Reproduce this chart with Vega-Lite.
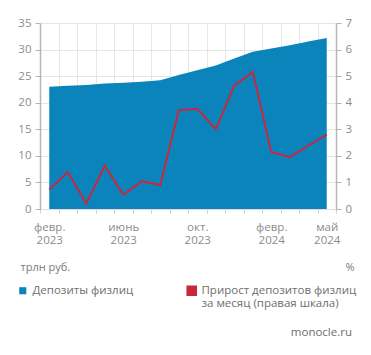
{
  "$schema": "https://vega.github.io/schema/vega-lite/v6.json",
  "width": 296,
  "height": 186,
  "autosize": {"type": "none"},
  "padding": {"left": 40, "top": 23, "right": 35, "bottom": 146},
  "background": "white",
  "config": {
    "view": {"stroke": null},
    "font": "Open Sans",
    "axis": {"labelFont": "Open Sans", "titleFont": "Open Sans", "labelColor": "#8c8c8c", "titleColor": "#7a7a7a", "labelFontSize": 11.5, "titleFontSize": 11, "titleFontWeight": "normal"},
    "legend": {"labelFont": "Open Sans", "labelFontSize": 11.5, "labelColor": "#6e6e6e"}
  },
  "title": {"text": "monocle.ru", "orient": "bottom", "anchor": "end", "frame": "group", "fontSize": 11.5, "fontWeight": "normal", "color": "#6e6e6e", "font": "Open Sans", "offset": 17, "dx": 16},
  "data": {"values": [
    {"m": "2023-02", "dep": 23.0, "g": 0.73},
    {"m": "2023-03", "dep": 23.2, "g": 1.39},
    {"m": "2023-04", "dep": 23.35, "g": 0.2},
    {"m": "2023-05", "dep": 23.6, "g": 1.63},
    {"m": "2023-06", "dep": 23.75, "g": 0.54},
    {"m": "2023-07", "dep": 23.95, "g": 1.04},
    {"m": "2023-08", "dep": 24.25, "g": 0.9},
    {"m": "2023-09", "dep": 25.2, "g": 3.72},
    {"m": "2023-10", "dep": 26.1, "g": 3.77},
    {"m": "2023-11", "dep": 27.0, "g": 3.0},
    {"m": "2023-12", "dep": 28.3, "g": 4.64},
    {"m": "2024-01", "dep": 29.6, "g": 5.16},
    {"m": "2024-02", "dep": 30.2, "g": 2.15},
    {"m": "2024-03", "dep": 30.8, "g": 1.95},
    {"m": "2024-04", "dep": 31.5, "g": 2.38},
    {"m": "2024-05", "dep": 32.2, "g": 2.8}
  ]},
  "encoding": {
    "x": {
      "field": "m", "type": "ordinal", "bandPosition": 0.5,
      "scale": {"type": "band", "paddingInner": 0, "paddingOuter": 0},
      "axis": {
        "title": null, "tickBand": "extent", "grid": true, "gridColor": "#e6e6e6", "gridWidth": 1,
        "domain": true, "domainColor": "#dddddd", "ticks": true, "tickColor": "#d0d0d0", "tickSize": 4,
        "labelAngle": 0, "labelOverlap": false, "labelPadding": 7, "labelBaseline": "line-top", "labelLineHeight": 13,
        "labelExpr": "datum.value=='2023-02'?['февр.','2023']:datum.value=='2023-06'?['июнь','2023']:datum.value=='2023-10'?['окт.','2023']:datum.value=='2024-02'?['февр.','2024']:datum.value=='2024-05'?['май','2024']:''"
      }
    }
  },
  "layer": [
    {
      "mark": {"type": "area", "opacity": 1},
      "encoding": {
        "y": {"field": "dep", "type": "quantitative", "scale": {"domain": [0, 35]},
          "axis": {"title": "трлн руб.", "orient": "left", "values": [0,5,10,15,20,25,30,35], "grid": true, "gridColor": "#e6e6e6",
            "domain": true, "domainColor": "#b5b5b5", "domainWidth": 1.5, "ticks": true, "tickColor": "#b5b5b5", "tickSize": 5, "labelPadding": 4,
            "titleAngle": 0, "titleX": -20, "titleY": 247, "titleAlign": "left", "titleBaseline": "alphabetic"}},
        "color": {"datum": "Депозиты физлиц", "scale": {"range": ["#0b84bb"]},
          "legend": {"title": null, "orient": "none", "legendX": -23, "legendY": 262, "symbolType": "square", "symbolSize": 50, "symbolStrokeWidth": 0, "labelOffset": 4}}
      }
    },
    {
      "mark": {"type": "line", "strokeWidth": 2},
      "encoding": {
        "y": {"field": "g", "type": "quantitative", "scale": {"domain": [0, 7]},
          "axis": {"title": "%", "orient": "right", "values": [0,1,2,3,4,5,6,7], "grid": false,
            "domain": true, "domainColor": "#b5b5b5", "domainWidth": 1.5, "ticks": true, "tickColor": "#b5b5b5", "tickSize": 5, "labelPadding": 4,
            "titleAngle": 0, "titleX": 9, "titleY": 247, "titleAlign": "left", "titleBaseline": "alphabetic"}},
        "color": {"datum": "Прирост депозитов физлиц", "scale": {"range": ["#c8283f"]},
          "legend": {"title": null, "orient": "none", "legendX": 146, "legendY": 262, "symbolType": "square", "symbolSize": 50, "symbolStrokeWidth": 3.5, "symbolFillColor": "#d8202e", "labelOffset": 4,
            "labelExpr": "['Прирост депозитов физлиц', 'за месяц (правая шкала)']"}}
      }
    }
  ],
  "resolve": {"scale": {"y": "independent", "color": "independent"}, "legend": {"color": "independent"}}
}
